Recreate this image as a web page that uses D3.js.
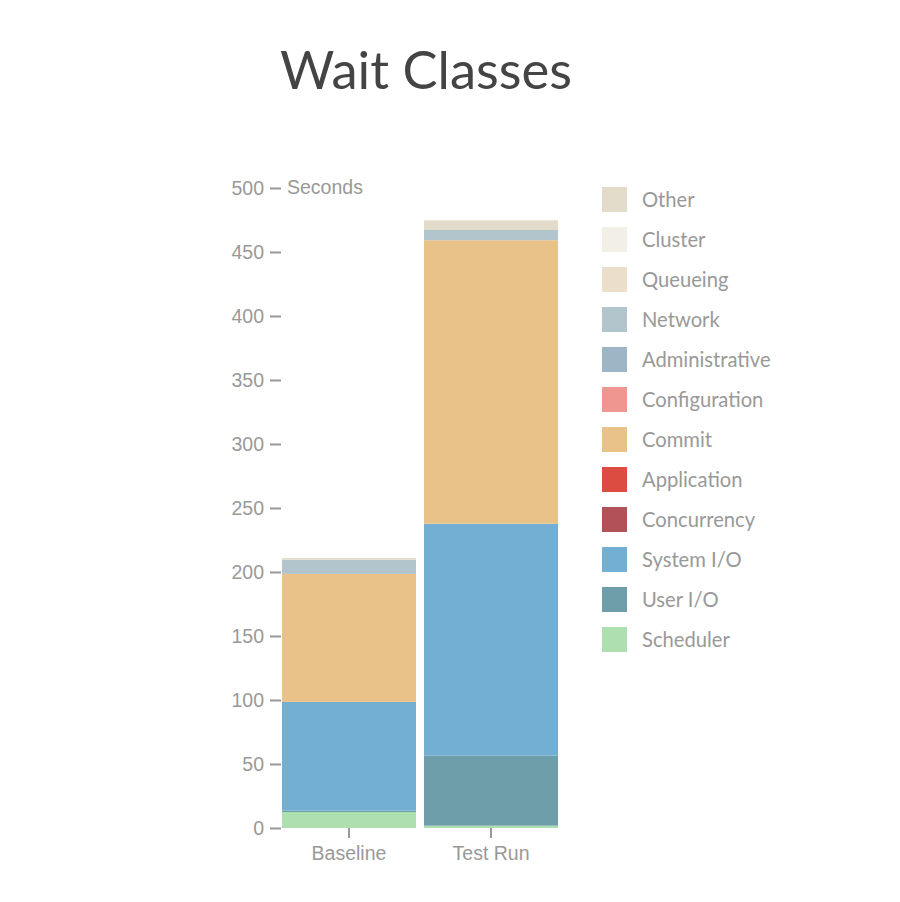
<!DOCTYPE html>
<html>
<head>
<meta charset="utf-8">
<script src="https://cdn.jsdelivr.net/npm/d3@7"></script>
<style>
  body { margin: 0; background: #fff; }
  .title { font-family: Lato, sans-serif; font-size: 52.5px; fill: #444; }
  .axis text { font-family: "Liberation Sans", Arial, sans-serif; font-size: 19.5px; fill: #999; }
  .axis line { stroke: #999; stroke-width: 2; }
  .axis path { display: none; }
  .legend text { font-family: Lato, sans-serif; font-size: 20.2px; fill: #999; }
</style>
</head>
<body>
<div id="chart"></div>
<script>
// wait classes, bottom of the stack first
const classes = ["Scheduler", "User I/O", "System I/O", "Concurrency", "Application",
  "Commit", "Configuration", "Administrative", "Network", "Queueing", "Cluster", "Other"];
const colors = ["#addfb0", "#6f9eab", "#72afd2", "#b35159", "#dd4c41",
  "#e9c28a", "#ef9690", "#9db5c4", "#b2c4cc", "#ebdfcb", "#f1efe6", "#e4dccb"];
const runs = ["Baseline", "Test Run"];
// seconds per class, same order as classes
const baseline = [12.5, 1, 85, 0, 0, 100, 0, 0, 11, 0, 0, 1.5];
const testRun = [1.8, 54.7, 181.2, 0, 0, 221.5, 0, 0, 8, 0, 0, 7.6];
const yTicks = [0, 50, 100, 150, 200, 250, 300, 350, 400, 450, 500];

const rows = runs.map((r, i) => {
  let vals = i === 0 ? baseline : testRun;
  let row = {run: r};
  classes.forEach((c, j) => row[c] = vals[j]);
  return row;
});

let svg = d3.select("#chart").append("svg")
  .attr("width", 900)
  .attr("height", 902);

svg.append("text")
  .attr("class", "title")
  .attr("x", 426)
  .attr("y", 89)
  .attr("text-anchor", "middle")
  .text("Wait Classes");

let x = d3.scaleBand().domain(runs).range([282, 558]).paddingInner(8 / 142).paddingOuter(0);
let y = d3.scaleLinear().domain([0, 500]).range([828, 188]);
let color = d3.scaleOrdinal().domain(classes).range(colors);

let stacked = d3.stack().keys(classes)(rows);

svg.append("g").selectAll("g").data(stacked).enter().append("g")
  .attr("fill", d => color(d.key))
  .selectAll("rect").data(d => d).enter().append("rect")
  .attr("x", d => x(d.data.run))
  .attr("width", x.bandwidth())
  .attr("y", d => y(d[1]))
  .attr("height", d => y(d[0]) - y(d[1]));

// y axis, ticks sit left of the bars
let yAxis = svg.append("g")
  .attr("class", "axis")
  .attr("transform", "translate(281,0)")
  .call(d3.axisLeft(y).tickValues(yTicks).tickSize(11).tickPadding(6));

yAxis.append("text")
  .attr("x", 6)
  .attr("y", y(500))
  .attr("dy", "0.32em")
  .attr("text-anchor", "start")
  .text("Seconds");

svg.append("g")
  .attr("class", "axis")
  .attr("transform", "translate(0,828)")
  .call(d3.axisBottom(x).tickSize(10).tickPadding(8));

// legend, top entry is last class
let legend = svg.append("g").attr("class", "legend")
  .selectAll("g").data(classes.slice().reverse()).enter().append("g")
  .attr("transform", (d, i) => "translate(602," + (187 + i * 40) + ")");

legend.append("rect")
  .attr("width", 25)
  .attr("height", 25)
  .attr("fill", d => color(d));

legend.append("text")
  .attr("x", 40)
  .attr("y", 12.5)
  .attr("dy", "0.35em")
  .text(d => d);
</script>
</body>
</html>
